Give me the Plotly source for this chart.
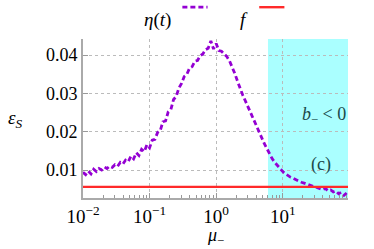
import plotly.graph_objects as go

log_mu = [-2.00, -1.96, -1.92, -1.88, -1.84, -1.80, -1.76, -1.72, -1.68, -1.64,
          -1.60, -1.56, -1.52, -1.48, -1.44, -1.40, -1.36, -1.32, -1.28, -1.24,
          -1.20, -1.16, -1.12, -1.08, -1.04, -1.00, -0.96, -0.92, -0.88, -0.84,
          -0.80, -0.76, -0.72, -0.68, -0.64, -0.60, -0.56, -0.52, -0.48, -0.44,
          -0.40, -0.36, -0.32, -0.28, -0.24, -0.20, -0.16, -0.12, -0.08, -0.04,
          0.00, 0.04, 0.08, 0.12, 0.16, 0.20, 0.24, 0.28, 0.32, 0.36,
          0.40, 0.44, 0.48, 0.52, 0.56, 0.60, 0.64, 0.68, 0.72, 0.76,
          0.80, 0.84, 0.88, 0.92, 0.96, 1.00, 1.04, 1.08, 1.12, 1.16,
          1.20, 1.24, 1.28, 1.32, 1.36, 1.40, 1.44, 1.48, 1.52, 1.56,
          1.60, 1.64, 1.68, 1.72, 1.76, 1.80, 1.84, 1.88, 1.92, 1.96]
eta = [0.0094, 0.0088, 0.0097, 0.0090, 0.0102, 0.0096, 0.0104, 0.0100, 0.0108, 0.0104,
       0.0110, 0.0107, 0.0114, 0.0110, 0.0120, 0.0116, 0.0126, 0.0122, 0.0136, 0.0129,
       0.0145, 0.0138, 0.0154, 0.0148, 0.0166, 0.0158, 0.0178, 0.0180, 0.0198, 0.0203,
       0.0226, 0.0228, 0.0252, 0.0258, 0.0284, 0.0292, 0.0314, 0.0326, 0.0344, 0.0350,
       0.0366, 0.0370, 0.0384, 0.0386, 0.0398, 0.0403, 0.0414, 0.0418, 0.0437, 0.0416,
       0.0430, 0.0412, 0.0410, 0.0402, 0.0396, 0.0385, 0.0370, 0.0352, 0.0332, 0.0312,
       0.0295, 0.0280, 0.0265, 0.0250, 0.0235, 0.0220, 0.0203, 0.0186, 0.0170, 0.0156,
       0.0142, 0.0130, 0.0120, 0.0111, 0.0103, 0.0096, 0.0090, 0.0085, 0.0081, 0.0078,
       0.0074, 0.0071, 0.0068, 0.0066, 0.0063, 0.0061, 0.0058, 0.0056, 0.0054, 0.0051,
       0.0049, 0.0052, 0.0046, 0.0048, 0.0043, 0.0045, 0.0038, 0.0042, 0.0034, 0.0040]
f_value = 0.0056
x_range_log = [-2.0, 1.98]
region_start = 6.0
x_tickvals = [0.01, 0.1, 1, 10]
x_ticktext = ["10<sup>−2</sup>", "10<sup>−1</sup>", "10<sup>0</sup>", "10<sup>1</sup>"]
y_tickvals = [0.01, 0.02, 0.03, 0.04]
y_ticktext = ["0.01", "0.02", "0.03", "0.04"]

mu = [10 ** v for v in log_mu]
x_ends = [10 ** x_range_log[0], 10 ** x_range_log[1]]

SERIF = "Liberation Serif, Times New Roman, serif"
PURPLE = "#9400d3"
RED = "#ff2a2a"
DASH = "5px,3px"

fig = go.Figure()
fig.add_trace(go.Scatter(x=mu, y=eta, mode="lines",
                         line=dict(color=PURPLE, width=2.8, dash=DASH),
                         showlegend=False, hoverinfo="skip"))
fig.add_trace(go.Scatter(x=x_ends, y=[f_value, f_value], mode="lines",
                         line=dict(color=RED, width=2.4), showlegend=False, hoverinfo="skip"))

fig.add_shape(type="rect", xref="x", yref="paper", x0=region_start, x1=x_ends[1],
              y0=0, y1=1, fillcolor="#aaffff", line=dict(width=0), layer="below")

# manual legend (text left of symbol)
fig.add_annotation(xref="paper", yref="paper", x=0.34, y=1.2, text="<i>η</i>(<i>t</i>)",
                   showarrow=False, xanchor="right", font=dict(family=SERIF, size=19, color="black"))
fig.add_shape(type="line", xref="paper", yref="paper", x0=0.375, x1=0.47, y0=1.2, y1=1.2,
              line=dict(color=PURPLE, width=2.8, dash=DASH))
fig.add_annotation(xref="paper", yref="paper", x=0.63, y=1.2, text="<i>f</i>",
                   showarrow=False, xanchor="right", font=dict(family=SERIF, size=19, color="black"))
fig.add_shape(type="line", xref="paper", yref="paper", x0=0.665, x1=0.76, y0=1.2, y1=1.2,
              line=dict(color=RED, width=2.4))

fig.add_annotation(xref="paper", yref="paper", x=1.0, y=0.52, text="<i>b</i><sub>−</sub> < 0",
                   showarrow=False, xanchor="right", yanchor="middle",
                   font=dict(family=SERIF, size=18, color="#1a4a4a"))
fig.add_annotation(xref="paper", yref="paper", x=0.945, y=0.21, text="(c)",
                   showarrow=False, xanchor="right", yanchor="middle",
                   font=dict(family=SERIF, size=18, color="#1a4a4a"))

fig.add_annotation(xref="paper", yref="paper", x=-0.29, y=0.5, text="<i>ε</i><sub><i>S</i></sub>",
                   showarrow=False, font=dict(family=SERIF, size=19, color="black"))
fig.add_annotation(xref="paper", yref="paper", x=0.5, y=-0.245, text="<i>μ</i><sub>−</sub>",
                   showarrow=False, yanchor="middle", font=dict(family=SERIF, size=18, color="black"))

fig.update_xaxes(type="log", range=x_range_log, tickvals=x_tickvals, ticktext=x_ticktext,
                 ticks="inside", ticklen=5, tickcolor="#999999", showline=True, linecolor="#aaaaaa",
                 linewidth=2, showgrid=True, gridcolor="#bbbbbb", griddash="dot", gridwidth=1,
                 zeroline=False, tickfont=dict(family=SERIF, size=19, color="black"),
                 minor=dict(ticks="inside", ticklen=3, tickcolor="#999999", dtick="D1", showgrid=False))
fig.update_yaxes(range=[0.0027, 0.0442], tickvals=y_tickvals, ticktext=y_ticktext,
                 ticks="inside", ticklen=5, tickcolor="#999999", showline=True, linecolor="#aaaaaa",
                 linewidth=2, showgrid=True, gridcolor="#bbbbbb", griddash="dot", gridwidth=1,
                 zeroline=False, tickfont=dict(family=SERIF, size=18, color="black"))

fig.update_layout(width=374, height=249, margin=dict(l=83, r=26, t=39, b=51),
                  plot_bgcolor="white", paper_bgcolor="white", showlegend=False)

fig.write_html("out.html", config={"displayModeBar": False},
               post_script="document.body.style.margin='0';")
